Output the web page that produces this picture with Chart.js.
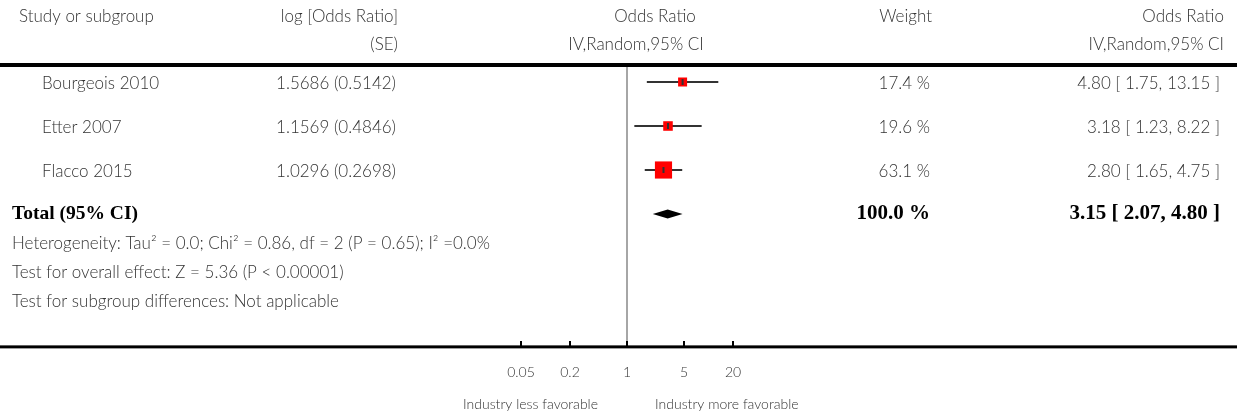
<!DOCTYPE html>
<html>
<head>
<meta charset="utf-8">
<script src="https://cdn.jsdelivr.net/npm/chart.js@4/dist/chart.umd.min.js"></script>
<style>
  html, body { margin: 0; padding: 0; background: #fff; overflow: hidden; }
  #wrap { width: 1237px; height: 417px; }
  canvas { display: block; }
</style>
</head>
<body>
<div id="wrap"><canvas id="forest" width="1237" height="417"></canvas></div>
<script>
// study data
const studies = ['Bourgeois 2010', 'Etter 2007', 'Flacco 2015'];
const logOR = [1.5686, 1.1569, 1.0296];
const logSE = [0.5142, 0.4846, 0.2698];
const oddsRatio = [4.80, 3.18, 2.80];
const ciLow = [1.75, 1.23, 1.65];
const ciHigh = [13.15, 8.22, 4.75];
const weights = [17.4, 19.6, 63.1];

// pooled estimate
const totalOR = 3.15;
const totalLow = 2.07;
const totalHigh = 4.80;
const totalWeight = 100.0;

const footnotes = [
  'Heterogeneity: Tau\u00B2 = 0.0; Chi\u00B2 = 0.86, df = 2 (P = 0.65); I\u00B2 =0.0%',
  'Test for overall effect: Z = 5.36 (P < 0.00001)',
  'Test for subgroup differences: Not applicable'
];

const tickValues = [0.05, 0.2, 1, 5, 20];
const tickLabels = ['0.05', '0.2', '1', '5', '20'];
const favourLeft = 'Industry less favorable';
const favourRight = 'Industry more favorable';

// layout (pixels)
const BODY_FONT = '300 17px Lato';
const BOLD_FONT = 'bold 21px "Liberation Serif"';
const TOTAL_FONT = 'bold 19.5px "Liberation Serif"';
const SMALL_FONT = '300 14px Lato';
const TEXT = '#333';
const HEAD_Y1 = 17, HEAD_Y2 = 45, HEAD_LINE_Y = 65;
const LEFT_X = 12, NAME_X = 42, SE_X = 396;
const AXIS_ROW = 6.02;
const FOOT_ROWS = [3.68, 4.34, 5.0];

const fmt = (v, d) => v.toFixed(d);

function text(ctx, s, x, y, align, font, color) {
  ctx.font = font || BODY_FONT;
  ctx.fillStyle = color || TEXT;
  ctx.textAlign = align || 'left';
  ctx.textBaseline = 'middle';
  ctx.fillText(s, x, y);
}

const forestPlugin = {
  id: 'forest',
  beforeDatasetsDraw(chart) {
    const ctx = chart.ctx;
    const xs = chart.scales.x, ys = chart.scales.y;
    const W = chart.width;
    const x1 = xs.getPixelForValue(1);
    const axisY = ys.getPixelForValue(AXIS_ROW);
    ctx.save();

    // headers
    text(ctx, 'Study or subgroup', 19, HEAD_Y1);
    text(ctx, 'log [Odds Ratio]', SE_X + 2, HEAD_Y1, 'right');
    text(ctx, '(SE)', SE_X + 2, HEAD_Y2, 'right');
    text(ctx, 'Odds Ratio', 655, HEAD_Y1, 'center');
    text(ctx, 'IV,Random,95% CI', 636, HEAD_Y2, 'center');
    text(ctx, 'Weight', 932, HEAD_Y1, 'right');
    text(ctx, 'Odds Ratio', 1224, HEAD_Y1, 'right');
    text(ctx, 'IV,Random,95% CI', 1224, HEAD_Y2, 'right');

    ctx.fillStyle = '#000';
    ctx.fillRect(0, HEAD_LINE_Y - 2, W, 4);

    // line of no effect
    ctx.strokeStyle = '#888';
    ctx.lineWidth = 1.5;
    ctx.beginPath();
    ctx.moveTo(x1, HEAD_LINE_Y + 2);
    ctx.lineTo(x1, axisY);
    ctx.stroke();

    // study rows
    studies.forEach((name, i) => {
      const y = ys.getPixelForValue(i);
      text(ctx, name, NAME_X, y + 2);
      text(ctx, fmt(logOR[i], 4) + ' (' + fmt(logSE[i], 4) + ')', SE_X, y + 2, 'right');
      text(ctx, fmt(weights[i], 1) + ' %', 930, y + 2, 'right');
      text(ctx, fmt(oddsRatio[i], 2) + ' [ ' + fmt(ciLow[i], 2) + ', ' + fmt(ciHigh[i], 2) + ' ]', 1220, y + 2, 'right');
      ctx.strokeStyle = '#333';
      ctx.lineWidth = 2;
      ctx.beginPath();
      ctx.moveTo(xs.getPixelForValue(ciLow[i]), y);
      ctx.lineTo(xs.getPixelForValue(ciHigh[i]), y);
      ctx.stroke();
    });

    // total row
    const ty = ys.getPixelForValue(studies.length);
    text(ctx, 'Total (95% CI)', LEFT_X, ty, 'left', TOTAL_FONT, '#000');
    text(ctx, fmt(totalWeight, 1) + ' %', 930, ty, 'right', BOLD_FONT, '#000');
    text(ctx, fmt(totalOR, 2) + ' [ ' + fmt(totalLow, 2) + ', ' + fmt(totalHigh, 2) + ' ]', 1220, ty, 'right', BOLD_FONT, '#000');

    footnotes.forEach((s, i) => text(ctx, s, LEFT_X, ys.getPixelForValue(FOOT_ROWS[i])));

    // axis
    ctx.fillStyle = '#000';
    ctx.fillRect(0, axisY - 1.5, W, 3);
    ctx.lineWidth = 2;
    ctx.strokeStyle = '#000';
    tickValues.forEach((v, i) => {
      const px = Math.round(xs.getPixelForValue(v));
      ctx.beginPath();
      ctx.moveTo(px, axisY);
      ctx.lineTo(px, axisY - 6);
      ctx.stroke();
      text(ctx, tickLabels[i], px, axisY + 26, 'center', SMALL_FONT);
    });
    text(ctx, favourLeft, x1 - 29, axisY + 58, 'right', SMALL_FONT);
    text(ctx, favourRight, x1 + 28, axisY + 58, 'left', SMALL_FONT);
    ctx.restore();
  },
  afterDatasetsDraw(chart) {
    const ctx = chart.ctx;
    const xs = chart.scales.x, ys = chart.scales.y;
    ctx.save();
    // point estimate marks
    ctx.fillStyle = '#333';
    oddsRatio.forEach((v, i) => {
      const px = xs.getPixelForValue(v), py = ys.getPixelForValue(i);
      ctx.fillRect(px - 1, py - 3, 2, 6);
    });
    // pooled diamond
    const ty = ys.getPixelForValue(studies.length);
    ctx.fillStyle = '#000';
    ctx.beginPath();
    ctx.moveTo(xs.getPixelForValue(totalLow), ty);
    ctx.lineTo(xs.getPixelForValue(totalOR), ty - 4.5);
    ctx.lineTo(xs.getPixelForValue(totalHigh), ty);
    ctx.lineTo(xs.getPixelForValue(totalOR), ty + 4.5);
    ctx.closePath();
    ctx.fill();
    ctx.restore();
  }
};

// 81.6 px per decade, OR = 1 at x = 627
const PX_DEC = 81.6;

new Chart(document.getElementById('forest'), {
  type: 'scatter',
  data: {
    datasets: [{
      data: oddsRatio.map((v, i) => ({ x: v, y: i })),
      pointStyle: 'rect',
      pointRadius: weights.map(w => Math.sqrt(w) * 2.16 / Math.SQRT2),
      backgroundColor: '#ff0000',
      borderWidth: 0
    }]
  },
  options: {
    responsive: false,
    animation: false,
    events: [],
    devicePixelRatio: 1,
    layout: { padding: 0, autoPadding: false },
    plugins: { legend: { display: false }, tooltip: { enabled: false } },
    scales: {
      x: {
        type: 'logarithmic',
        display: false,
        min: Math.pow(10, -627 / PX_DEC),
        max: Math.pow(10, (1237 - 627) / PX_DEC)
      },
      y: {
        type: 'linear',
        display: false,
        reverse: true,
        min: -82 / 44,
        max: (417 - 82) / 44
      }
    }
  },
  plugins: [forestPlugin]
});
</script>
</body>
</html>
